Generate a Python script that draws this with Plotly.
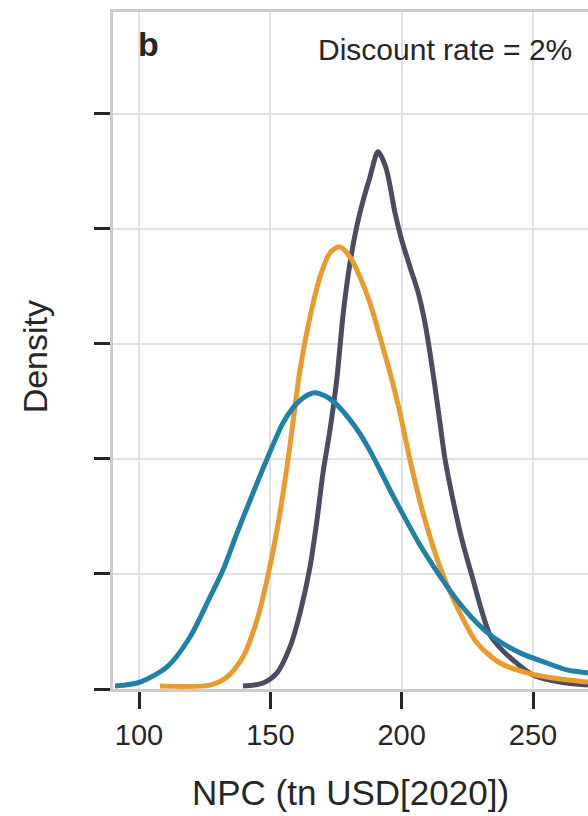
import plotly.graph_objects as go

# Kernel-density curves (x: NPC tn USD[2020], y: density)
blue_x = [90.86, 100.38, 110.66, 119.42, 127.03, 131.98, 137.31, 143.40, 148.73, 154.82,
          158.63, 162.43, 166.24, 168.91, 172.71, 176.52, 180.33, 184.14, 187.94, 191.75,
          195.56, 199.36, 206.98, 214.59, 221.06, 228.68, 234.77, 245.05, 255.33, 262.94,
          270.94]
blue_y = [0.00013, 0.00030, 0.00096, 0.00226, 0.00400, 0.00517, 0.00678, 0.00852, 0.01000,
          0.01157, 0.01222, 0.01265, 0.01287, 0.01283, 0.01261, 0.01222, 0.01170, 0.01109,
          0.01035, 0.00952, 0.00865, 0.00783, 0.00626, 0.00491, 0.00387, 0.00287, 0.00226,
          0.00157, 0.00113, 0.00083, 0.00070]

orange_x = [107.99, 127.03, 133.50, 139.59, 144.92, 148.73, 152.54, 156.34, 158.25, 161.29,
            165.10, 168.91, 172.71, 176.52, 180.33, 184.14, 187.94, 191.75, 195.56, 199.36,
            203.17, 208.12, 214.59, 221.06, 228.68, 237.44, 247.71, 257.61, 270.94]
orange_y = [0.00013, 0.00017, 0.00052, 0.00139, 0.00300, 0.00474, 0.00691, 0.00965, 0.01126,
            0.01387, 0.01617, 0.01791, 0.01896, 0.01922, 0.01878, 0.01791, 0.01678, 0.01530,
            0.01374, 0.01200, 0.00996, 0.00765, 0.00530, 0.00357, 0.00200, 0.00113, 0.00070,
            0.00048, 0.00030]

dark_x = [139.59, 147.21, 152.54, 157.49, 161.29, 165.10, 167.77, 170.05, 172.71, 175.27,
          177.78, 180.33, 182.88, 185.39, 187.94, 190.99, 194.04, 197.46, 200.01, 203.17,
          206.33, 208.88, 210.78, 212.69, 214.59, 216.49, 219.54, 222.97, 226.66, 233.63,
          238.20, 242.38, 250.00, 260.28, 270.94]
dark_y = [0.00013, 0.00026, 0.00070, 0.00183, 0.00330, 0.00530, 0.00735, 0.00939, 0.01126,
          0.01343, 0.01635, 0.01852, 0.02009, 0.02126, 0.02226, 0.02335, 0.02265, 0.02070,
          0.01952, 0.01835, 0.01722, 0.01591, 0.01461, 0.01313, 0.01157, 0.01000, 0.00822,
          0.00648, 0.00496, 0.00235, 0.00170, 0.00126, 0.00061, 0.00030, 0.00017]

x_ticks = [100, 150, 200, 250]
y_ticks = [0, 0.005, 0.01, 0.015, 0.02, 0.025]

FONT = "Liberation Sans, Arial, sans-serif"
TXT = "#262626"

fig = go.Figure()
for xs, ys, col in [(dark_x, dark_y, "#4a4c61"),
                    (orange_x, orange_y, "#e99b2e"),
                    (blue_x, blue_y, "#1f80a8")]:
    fig.add_trace(go.Scatter(x=xs, y=ys, mode="lines",
                             line=dict(color=col, width=5, shape="spline", smoothing=0.8),
                             showlegend=False, hoverinfo="skip"))

fig.update_layout(
    width=588, height=816,
    margin=dict(l=113, r=0, t=12, b=127),
    paper_bgcolor="white", plot_bgcolor="white",
    font=dict(family=FONT, color=TXT),
    xaxis=dict(range=[90.1, 270.94], tickvals=x_ticks, ticks="outside", ticklen=17,
               tickwidth=2.5, tickcolor=TXT, showline=True, linecolor="#cccccc",
               linewidth=3, mirror=True, showgrid=True, gridcolor="#e1e1e1", gridwidth=2,
               zeroline=False, tickfont=dict(size=29, color=TXT), ticklabelstandoff=1),
    yaxis=dict(range=[0, 0.02943], tickvals=y_ticks, ticks="outside", ticklen=16,
               tickwidth=2.5, tickcolor=TXT, showline=True, linecolor="#cccccc",
               linewidth=3, mirror=False, showgrid=True, gridcolor="#e1e1e1", gridwidth=2,
               zeroline=False, showticklabels=False),
    annotations=[
        dict(text="Discount rate = 2%", xref="paper", yref="paper", x=1, y=0.944,
             xanchor="right", yanchor="middle", xshift=-14, showarrow=False,
             font=dict(size=30, color=TXT)),
        dict(text="<b>b</b>", xref="paper", yref="paper", x=0.048, y=0.953,
             xanchor="left", yanchor="middle", showarrow=False,
             font=dict(size=34, color=TXT)),
        dict(text="NPC (tn USD[2020])", xref="paper", yref="paper", x=0.5, y=-0.1536,
             xanchor="center", yanchor="middle", showarrow=False,
             font=dict(size=35, color=TXT)),
        dict(text="Density", xref="paper", yref="paper", x=-0.164, y=0.49,
             xanchor="center", yanchor="middle", textangle=-90, showarrow=False,
             font=dict(size=34, color=TXT)),
    ],
)

fig.write_html("out.html", config={"displayModeBar": False},
               post_script="document.body.style.margin='0';"
                           "document.body.style.overflow='hidden';")
